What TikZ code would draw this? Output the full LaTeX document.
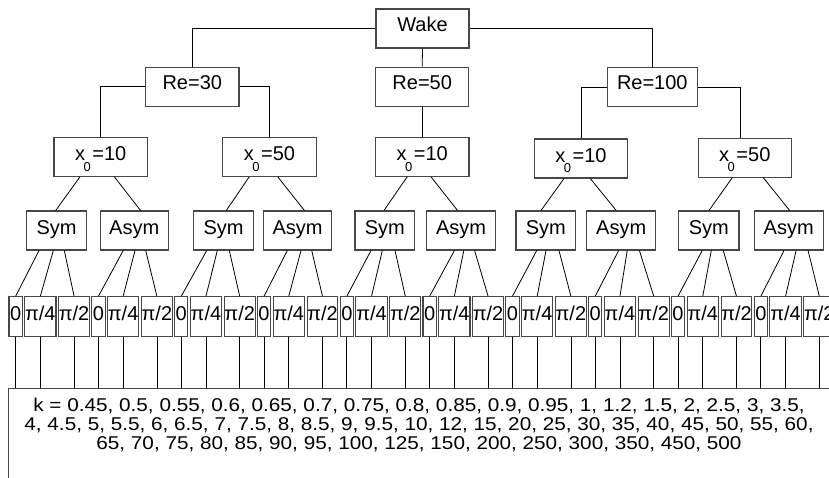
\documentclass[tikz,border=0pt]{standalone}
\usepackage{fontspec}
\setmainfont{Liberation Sans}
\newfontfamily\kfont[FakeStretch=1.12]{Liberation Sans}
\newcommand\xsubnull[1]{x\hspace{-1.5pt}\raisebox{-10.5pt}{\fontsize{13}{13}\selectfont 0}\hspace{1.5pt}=#1}
\begin{document}
\begin{tikzpicture}[x=1pt,y=-1pt,
  basebox/.style={draw=black!72, line width=1.1pt, inner sep=0pt, minimum height=39pt,
    font=\fontsize{20}{24}\selectfont},
  topbox/.style={basebox, text height=10.5pt, text depth=5pt},
  xbox/.style={basebox, minimum width=93.5pt, text height=11.8pt, text depth=4.2pt},
  sabox/.style={basebox, text height=11.5pt, text depth=4.5pt},
  angbox/.style={basebox, minimum height=39.3pt, text height=11.9pt, text depth=4.1pt},
  link/.style={draw=black, line width=0.8pt}]
\useasboundingbox (0,0) rectangle (829,477);
\clip (0,0) rectangle (829,477);

% top levels
\node[topbox, minimum width=93pt] (wake) at (422.5,28.5) {Wake};
\node[topbox, minimum width=93.3pt] (re30) at (192.3,86.7) {Re=30};
\node[topbox, minimum width=93pt] (re50) at (422.2,86.7) {Re=50};
\node[topbox, minimum width=90pt] (re100) at (652.3,87) {Re=100};

\node[xbox] (xa) at (100.7,156.7) {\xsubnull{10}};
\node[xbox] (xb) at (269.5,156.7) {\xsubnull{50}};
\node[xbox] (xc) at (422.2,156.7) {\xsubnull{10}};
\node[xbox] (xd) at (581,158.5) {\xsubnull{10}};
\node[xbox] (xe) at (744.8,157.6) {\xsubnull{50}};

\draw[link] (wake.west) -| (re30.north);
\draw[link] (wake.east) -| (re100.north);
\draw[link] (wake.south) -- (re50.north);
\draw[link] (re30.west) -| (xa.north);
\draw[link] (re30.east) -| (xb.north);
\draw[link] (re50.south) -- (xc.north);
\draw[link] (re100.west) -| (xd.north);
\draw[link] (re100.east) -| ([xshift=-4pt]xe.north);

% Sym / Asym
\foreach \n/\x/\w/\t in {0/56.5/59.6/Sym, 1/134.2/68.3/Asym, 2/223.5/59.6/Sym,
  3/297.5/68.4/Asym, 4/384.8/59.7/Sym, 5/461/68.6/Asym, 6/545.8/59.7/Sym,
  7/621.2/69/Asym, 8/708.8/60.3/Sym, 9/788.7/68.7/Asym}
  \node[sabox, minimum width=\w pt] (sa\n) at (\x,230.5) {\t};

\draw[link] ([xshift=-20.7pt]xa.south) -- ([xshift=-0.8pt]sa0.north);
\draw[link] ([xshift=13.6pt]xa.south) -- ([xshift=6.3pt]sa1.north);
\draw[link] ([xshift=-20.2pt]xb.south) -- ([xshift=2.8pt]sa2.north);
\draw[link] ([xshift=8.2pt]xb.south) -- ([xshift=6.9pt]sa3.north);
\draw[link] ([xshift=-15pt]xc.south) -- ([xshift=-0.8pt]sa4.north);
\draw[link] ([xshift=8.8pt]xc.south) -- ([xshift=-3.5pt]sa5.north);
\draw[link] ([xshift=-17pt]xd.south) -- ([xshift=-4.8pt]sa6.north);
\draw[link] ([xshift=9.3pt]xd.south) -- ([xshift=-5pt]sa7.north);
\draw[link] ([xshift=-12.5pt]xe.south) -- ([xshift=0.2pt]sa8.north);
\draw[link] ([xshift=18.5pt]xe.south) -- ([xshift=0.9pt]sa9.north);

% angle boxes
\foreach \i in {0,...,9}{
  \pgfmathsetmacro\s{9+82.8*\i}
  \node[angbox, minimum width=13.3pt] (ang\i0) at (\s+6.65,316.4) {0};
  \node[angbox, minimum width=31.3pt] (ang\i1) at (\s+31.35,316.4) {π/4};
  \node[angbox, minimum width=30.8pt] (ang\i2) at (\s+65.1,316.4) {π/2};
}

% bottom box
\node[draw=black!72, line width=1.1pt, inner sep=0pt, anchor=north west,
  minimum width=840pt, minimum height=120pt] (kbox) at (8.3,388.3) {};
\node[align=center, inner sep=0pt, font=\kfont\fontsize{18.5}{19.3}\selectfont] (ktext) at (419,425)
  {k = 0.45, 0.5, 0.55, 0.6, 0.65, 0.7, 0.75, 0.8, 0.85, 0.9, 0.95, 1, 1.2, 1.5, 2, 2.5, 3, 3.5,\\
   4, 4.5, 5, 5.5, 6, 6.5, 7, 7.5, 8, 8.5, 9, 9.5, 10, 12, 15, 20, 25, 30, 35, 40, 45, 50, 55, 60,\\
   65, 70, 75, 80, 85, 90, 95, 100, 125, 150, 200, 250, 300, 350, 450, 500};

% fans and drops
\foreach \n/\a/\b/\c in {0/-17.5/-3.2/7.8, 1/-11/0.8/11.5, 2/-16.8/-6.2/5.8,
  3/-10.2/3.5/14.2, 4/-13.8/-2.5/10.2, 5/-6.6/2.8/13.6, 6/-9.1/0.2/13.2,
  7/-2.6/6/18.2, 8/-6.6/2.5/14.5, 9/-4.7/7.4/19.4}{
  \draw[link] ([xshift=\a pt]sa\n.south) -- (ang\n0.north);
  \draw[link] ([xshift=\b pt]sa\n.south) -- (ang\n1.north);
  \draw[link] ([xshift=\c pt]sa\n.south) -- (ang\n2.north);
  \foreach \j in {0,1,2}
    \draw[link] (ang\n\j.south) -- (ang\n\j.south |- kbox.north);
}
\end{tikzpicture}
\end{document}
